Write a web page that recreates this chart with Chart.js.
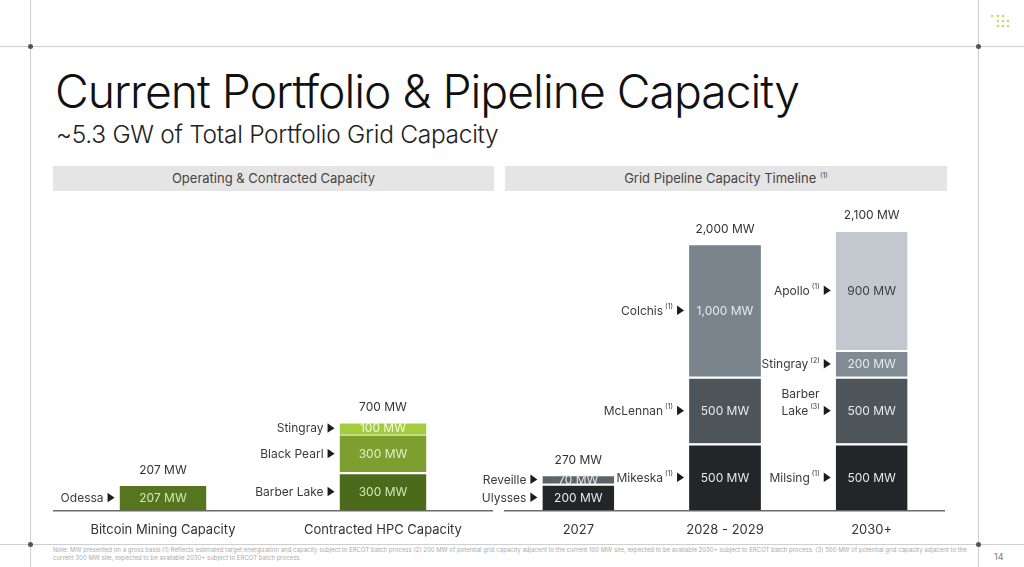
<!DOCTYPE html>
<html>
<head>
<meta charset="utf-8">
<script src="https://cdn.jsdelivr.net/npm/chart.js@4.4.1/dist/chart.umd.min.js"></script>
<style>
  body { margin: 0; width: 1024px; height: 567px; overflow: hidden; background: #fff; position: relative;
         font-family: Inter, "Noto Sans", sans-serif; color: #222; }
  .rule { position: absolute; background: #cfcfcf; }
  .dot { position: absolute; width: 5px; height: 5px; border-radius: 50%; background: #555; }
  #title { position: absolute; left: 55px; top: 68px; margin: 0; font-size: 46.3px; font-weight: 300; letter-spacing: -1px; line-height: 1; white-space: nowrap; color: #111; }
  #sub { position: absolute; left: 56px; top: 122px; margin: 0; font-size: 24.5px; font-weight: 300; letter-spacing: -0.3px; line-height: 1; white-space: nowrap; color: #222; }
  .band { position: absolute; top: 166px; height: 25px; line-height: 25px; background: #e5e5e5; text-align: center; font-size: 13px; color: #444; }
  .band sup { font-size: 7px; vertical-align: 5px; line-height: 0; }
  canvas { position: absolute; }
  #note { position: absolute; left: 53px; top: 546px; width: 920px; font-size: 6.05px; line-height: 7.5px; color: #aaa; }
  #page { position: absolute; left: 994px; top: 551px; font-size: 9px; color: #777; }
</style>
</head>
<body>
  <div class="rule" style="left:0;top:46px;width:1024px;height:1px"></div>
  <div class="rule" style="left:0;top:544px;width:1024px;height:1px"></div>
  <div class="rule" style="left:30px;top:0;width:1px;height:567px"></div>
  <div class="rule" style="left:978px;top:0;width:1px;height:567px"></div>
  <div class="dot" style="left:28px;top:44px"></div>
  <div class="dot" style="left:976px;top:44px"></div>
  <div class="dot" style="left:28px;top:542px"></div>
  <div class="dot" style="left:976px;top:542px"></div>
  <svg style="position:absolute;left:988px;top:12px" width="24" height="20">
    <g fill="#c9d86a">
      <circle cx="4" cy="4" r="1.3"/><circle cx="10" cy="4" r="1.3"/><circle cx="15" cy="4" r="1.3"/>
      <circle cx="10" cy="9" r="1.3"/><circle cx="15" cy="9" r="1.3"/><circle cx="20" cy="9" r="1.3"/>
      <circle cx="10" cy="14" r="1.3"/><circle cx="15" cy="14" r="1.3"/><circle cx="20" cy="14" r="1.3"/>
    </g>
  </svg>

  <h1 id="title">Current Portfolio &amp; Pipeline Capacity</h1>
  <h2 id="sub">~5.3 GW of Total Portfolio Grid Capacity</h2>
  <div class="band" style="left:53px;width:441px">Operating &amp; Contracted Capacity</div>
  <div class="band" style="left:505px;width:442px">Grid Pipeline Capacity Timeline <sup>(1)</sup></div>

  <canvas id="opChart" width="440" height="357" style="left:53px;top:185px"></canvas>
  <canvas id="pipeChart" width="470" height="357" style="left:475px;top:185px"></canvas>

  <div id="note">Note: MW presented on a gross basis (1) Reflects estimated target energization and capacity subject to ERCOT batch process (2) 200 MW of potential grid capacity adjacent to the current 100 MW site, expected to be available 2030+ subject to ERCOT batch process. (3) 500 MW of potential grid capacity adjacent to the current 300 MW site, expected to be available 2030+ subject to ERCOT batch process.</div>
  <div id="page">14</div>

<script>
// operating & contracted capacity (MW)
const opCategories = ['Bitcoin Mining Capacity', 'Contracted HPC Capacity'];
const opTier1 = [207, 300];
const opTier1Sites = ['Odessa', 'Barber Lake'];
const opTier2 = [null, 300];
const opTier2Sites = [null, 'Black Pearl'];
const opTier3 = [null, 100];
const opTier3Sites = [null, 'Stingray'];

// grid pipeline capacity timeline (MW)
const pipeCategories = ['2027', '2028 - 2029', '2030+'];
const pipeTier1 = [200, 500, 500];
const pipeTier1Sites = ['Ulysses', 'Mikeska', 'Milsing'];
const pipeTier1Notes = ['', '1', '1'];
const pipeTier2 = [70, 500, 500];
const pipeTier2Sites = ['Reveille', 'McLennan', 'Barber\nLake'];
const pipeTier2Notes = ['', '1', '3'];
const pipeTier3 = [null, 1000, 200];
const pipeTier3Sites = [null, 'Colchis', 'Stingray'];
const pipeTier3Notes = ['', '1', '2'];
const pipeTier4 = [null, null, 900];
const pipeTier4Sites = [null, null, 'Apollo'];
const pipeTier4Notes = ['', '', '1'];

const FONT = 'Inter, "Noto Sans", sans-serif';

function mw(v) { return v.toLocaleString('en-US') + ' MW'; }

// value inside each segment, site name with arrow to the left, total on top
const segmentLabels = {
  id: 'segmentLabels',
  afterDatasetsDraw(chart) {
    const ctx = chart.ctx;
    const n = chart.data.labels.length;
    const tops = new Array(n).fill(null);
    const totals = new Array(n).fill(0);
    const xs = new Array(n).fill(0);
    ctx.save();
    chart.data.datasets.forEach((ds, di) => {
      const meta = chart.getDatasetMeta(di);
      meta.data.forEach((bar, i) => {
        const v = ds.data[i];
        if (v == null) return;
        const { x, y, base, width } = bar.getProps(['x', 'y', 'base', 'width'], true);
        totals[i] += v;
        xs[i] = x;
        if (tops[i] == null || y < tops[i]) tops[i] = y;
        const cy = (y + base) / 2;

        ctx.font = '12px ' + FONT;
        ctx.fillStyle = ds.valueColor;
        ctx.textAlign = 'center';
        ctx.textBaseline = 'middle';
        ctx.fillText(mw(v), x, cy + 1);

        // arrow
        const triR = x - width / 2 - 5, triL = triR - 7;
        ctx.fillStyle = '#1c1c1c';
        ctx.beginPath();
        ctx.moveTo(triL, cy - 4.5);
        ctx.lineTo(triR, cy + 0.5);
        ctx.lineTo(triL, cy + 5);
        ctx.closePath();
        ctx.fill();

        let xr = triL - 4;
        ctx.fillStyle = '#3a3a3a';
        ctx.textAlign = 'right';
        const note = ds.notes ? ds.notes[i] : '';
        if (note) {
          ctx.font = '7px ' + FONT;
          ctx.fillText('(' + note + ')', xr, cy - 3);
          xr -= ctx.measureText('(' + note + ')').width + 2;
        }
        ctx.font = '12px ' + FONT;
        const lines = ds.sites[i].split('\n');
        const last = lines[lines.length - 1];
        ctx.fillText(last, xr, cy + 1);
        const lastLeft = xr - ctx.measureText(last).width;
        ctx.textAlign = 'left';
        for (let k = lines.length - 2, off = 1; k >= 0; k--, off++) {
          ctx.fillText(lines[k], lastLeft, cy + 1 - 17 * off);
        }
      });
    });
    ctx.font = '12px ' + FONT;
    ctx.fillStyle = '#333';
    ctx.textAlign = 'center';
    ctx.textBaseline = 'middle';
    for (let i = 0; i < n; i++) {
      if (tops[i] != null) ctx.fillText(mw(totals[i]), xs[i], tops[i] - 14);
    }
    ctx.restore();
  }
};

function makeChart(id, labels, datasets, yMax, catPct, padLeft) {
  return new Chart(document.getElementById(id), {
    type: 'bar',
    data: { labels, datasets },
    options: {
      responsive: false,
      animation: false,
      devicePixelRatio: 1,
      layout: { padding: { left: padLeft, right: 0, top: 0, bottom: 0 } },
      datasets: { bar: { barPercentage: 1, categoryPercentage: catPct,
                         borderWidth: { top: 2, left: 0, right: 0, bottom: 0 }, borderColor: '#ffffff', borderSkipped: 'start' } },
      plugins: { legend: { display: false }, tooltip: { enabled: false } },
      scales: {
        x: {
          stacked: true,
          grid: { display: false },
          border: { display: true, color: '#6a6a6a', width: 1.5 },
          ticks: { color: '#333', font: { family: FONT, size: 13 }, padding: 4, maxRotation: 0 }
        },
        y: { stacked: true, display: false, min: 0, max: yMax }
      }
    },
    plugins: [segmentLabels]
  });
}

makeChart('opChart', opCategories, [
  { data: opTier1, sites: opTier1Sites, backgroundColor: ['#55761f', '#4b6a1a'], valueColor: '#d6e6b4' },
  { data: opTier2, sites: opTier2Sites, backgroundColor: '#7c9f30', valueColor: '#e2eec8', borderColor: '#c3d98e' },
  { data: opTier3, sites: opTier3Sites, backgroundColor: '#a5cc3a', valueColor: '#f4f9e6' }
], 2559, 0.395, 0);

makeChart('pipeChart', pipeCategories, [
  { data: pipeTier1, sites: pipeTier1Sites, notes: pipeTier1Notes, backgroundColor: '#232628', valueColor: '#e6e8ea' },
  { data: pipeTier2, sites: pipeTier2Sites, notes: pipeTier2Notes, backgroundColor: ['#5b646a', '#4d555b', '#4d555b'], valueColor: '#e6e8ea' },
  { data: pipeTier3, sites: pipeTier3Sites, notes: pipeTier3Notes, backgroundColor: ['#7a848c', '#7a848c', '#808b93'], valueColor: '#e6e8ea' },
  { data: pipeTier4, sites: pipeTier4Sites, notes: pipeTier4Notes, backgroundColor: '#c3c8ce', valueColor: '#3a3e42' }
], 2436, 0.49, 30);
</script>
</body>
</html>
